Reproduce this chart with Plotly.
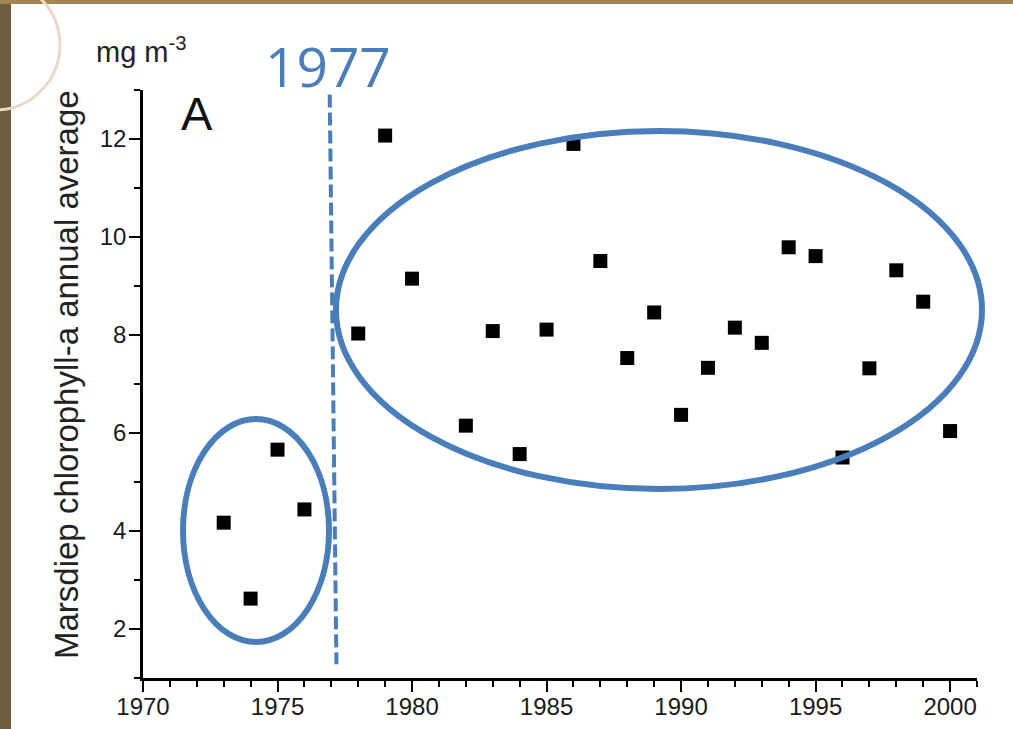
import plotly.graph_objects as go

# ---- data ----
years = [1973, 1974, 1975, 1976, 1978, 1979, 1980, 1982, 1983, 1984, 1985, 1986,
         1987, 1988, 1989, 1990, 1991, 1992, 1993, 1994, 1995, 1996, 1997, 1998,
         1999, 2000]
chl = [4.17, 2.62, 5.66, 4.44, 8.03, 12.07, 9.15, 6.15, 8.08, 5.57, 8.11, 11.9,
       9.51, 7.53, 8.46, 6.37, 7.33, 8.15, 7.84, 9.79, 9.61, 5.50, 7.32, 9.32,
       8.68, 6.04]
x_ticks = [1970, 1975, 1980, 1985, 1990, 1995, 2000]
y_ticks = [2, 4, 6, 8, 10, 12]
break_year = 1977

W, H = 1013, 729
L, R, T, B = 143, 36, 90, 51
PW, PH = W - L - R, H - T - B
BLUE = "#4a7ebb"
FONT = "Liberation Sans, Arial, Helvetica, sans-serif"
TICKFONT = dict(family=FONT, size=24, color="#1a1a1a")


def px(xp):
    return (xp - L) / PW


def py(yp):
    return (H - B - yp) / PH


fig = go.Figure()
fig.add_trace(go.Scatter(
    x=years, y=chl, mode="markers",
    marker=dict(symbol="square", size=14, color="black"),
    showlegend=False, hoverinfo="x+y"))

fig.update_xaxes(
    range=[1970, 2001], tickmode="array", tickvals=x_ticks,
    ticktext=[str(v) for v in x_ticks], tickfont=TICKFONT, ticklabelstandoff=-6,
    showgrid=False, zeroline=False, showline=True, linecolor="black",
    linewidth=2.5, ticks="outside", tickcolor="black", tickwidth=2, ticklen=11,
    minor=dict(dtick=1, tick0=1970, ticks="outside", ticklen=6,
               tickcolor="black", tickwidth=2))
fig.update_yaxes(
    range=[1, 13], tickmode="array", tickvals=y_ticks,
    ticktext=[str(v) for v in y_ticks], tickfont=TICKFONT, ticklabelstandoff=-2,
    showgrid=False, zeroline=False, showline=True, linecolor="black",
    linewidth=2.5, ticks="outside", tickcolor="black", tickwidth=2, ticklen=11,
    minor=dict(dtick=1, tick0=1, ticks="outside", ticklen=6,
               tickcolor="black", tickwidth=2))

shapes = [
    # slide decorations: left textured strip and top border
    dict(type="rect", xref="paper", yref="paper", x0=px(0), x1=px(11),
         y0=py(H), y1=py(0), fillcolor="#6e5c3f", line=dict(width=0), layer="below"),
    dict(type="rect", xref="paper", yref="paper", x0=px(0), x1=px(W),
         y0=py(4), y1=py(0), fillcolor="#a5844f", line=dict(width=0), layer="below"),
    dict(type="circle", xref="paper", yref="paper", x0=px(-70), x1=px(60),
         y0=py(110), y1=py(-20), line=dict(color="#ead9c8", width=3), layer="below"),
    # dashed 1977 line
    dict(type="line", xref="x", yref="y", x0=1976.94, y0=12.91, x1=1977.19, y1=1.28,
         line=dict(color=BLUE, width=4, dash="13px,5px")),
    # ellipses
    dict(type="circle", xref="paper", yref="paper", x0=px(336), x1=px(982),
         y0=py(489), y1=py(131), line=dict(color=BLUE, width=6)),
    dict(type="circle", xref="paper", yref="paper", x0=px(183), x1=px(329),
         y0=py(642), y1=py(419), line=dict(color=BLUE, width=6)),
]

annotations = [
    dict(text="Marsdiep chlorophyll-a annual average", textangle=-90,
         xref="paper", yref="paper", x=px(66), y=py(375), xanchor="center",
         yanchor="middle", showarrow=False,
         font=dict(family=FONT, size=33, color="#222")),
    dict(text="mg m<sup>-3</sup>", xref="paper", yref="paper", x=px(94), y=py(50),
         xanchor="left", yanchor="middle", showarrow=False,
         font=dict(family=FONT, size=29, color="#222")),
    dict(text="A", xref="paper", yref="paper", x=px(197), y=py(113),
         xanchor="center", yanchor="middle", showarrow=False,
         font=dict(family=FONT, size=47, color="#111")),
    dict(text=str(break_year), xref="paper", yref="paper", x=px(328), y=py(66),
         xanchor="center", yanchor="middle", showarrow=False,
         font=dict(family="Open Sans, Liberation Sans, sans-serif", size=55, color=BLUE)),
]

fig.update_layout(
    width=W, height=H, margin=dict(l=L, r=R, t=T, b=B, autoexpand=False),
    paper_bgcolor="white", plot_bgcolor="white",
    shapes=shapes, annotations=annotations,
)

fig.write_html(
    "out.html",
    config={"displayModeBar": False},
    post_script="document.body.style.margin='0';document.body.style.overflow='hidden';",
)
